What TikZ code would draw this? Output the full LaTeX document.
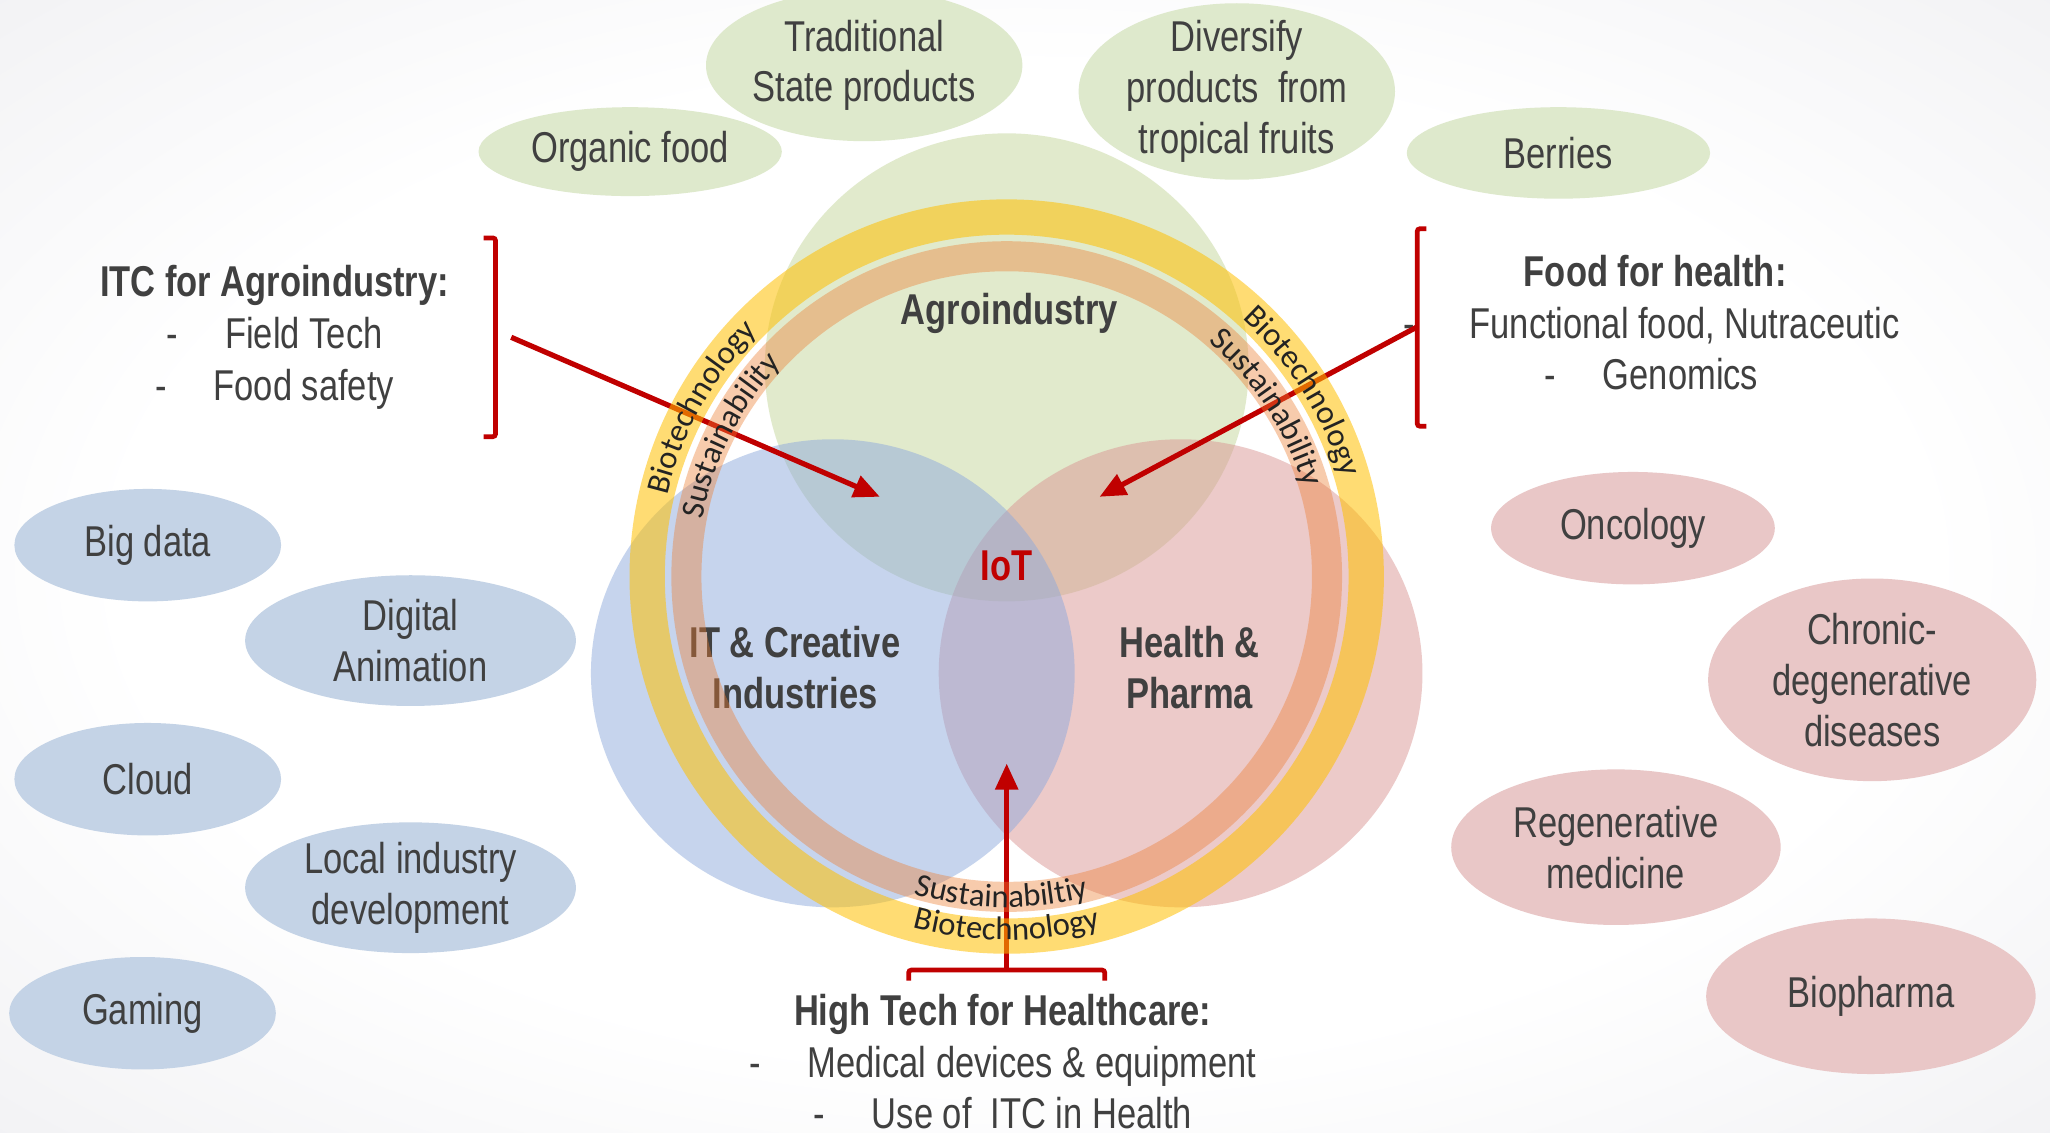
\documentclass[tikz,border=0pt]{standalone}
\usepackage{fontspec}
\setmainfont{Liberation Sans}[FakeStretch=0.8]
\newfontfamily\ringfont{Carlito}
\usetikzlibrary{shapes.geometric, arrows, arrows.meta, decorations.text}
\definecolor{txtgray}{RGB}{64,64,64}
\definecolor{ringink}{RGB}{35,35,35}
\definecolor{itcred}{RGB}{192,0,0}
\definecolor{agrogreen}{RGB}{196,215,155}
\definecolor{itblue}{RGB}{143,170,220}
\definecolor{hppink}{RGB}{218,150,148}
\definecolor{lightgreen}{RGB}{222,233,204}
\definecolor{lightblue}{RGB}{196,211,230}
\definecolor{lightpink}{RGB}{233,199,199}
\definecolor{ringgold}{RGB}{255,192,0}
\definecolor{ringorange}{RGB}{237,125,49}
\definecolor{bglight}{RGB}{238,238,241}
\definecolor{bgmid}{RGB}{218,218,224}
\definecolor{bgedge}{RGB}{196,196,206}
\pgfdeclareradialshading{slidebg}{\pgfpoint{0bp}{0bp}}{color(0bp)=(white); color(22bp)=(white); color(40bp)=(bglight); color(50bp)=(bgmid); color(72bp)=(bgedge)}
\tikzstyle{bubble} = [ellipse, inner sep=-10pt, text=txtgray, font=\fontsize{33}{39}\selectfont, align=center]
\tikzstyle{agrobubble} = [bubble, fill=lightgreen]
\tikzstyle{itbubble} = [bubble, fill=lightblue]
\tikzstyle{pharmabubble} = [bubble, fill=lightpink]
\tikzstyle{smallbubble} = [minimum width=204pt, minimum height=86pt]
\tikzstyle{bigbubble} = [minimum width=253pt, minimum height=100pt]
\tikzstyle{sector} = [ellipse, minimum width=370pt, minimum height=358pt, fill opacity=0.5]
\tikzstyle{sectorlabel} = [text=txtgray, font=\fontsize{33}{39}\selectfont\bfseries, align=center]
\tikzstyle{note} = [text=txtgray, font=\fontsize{33}{39.5}\selectfont, align=center]
\tikzstyle{bracket} = [line width=3.6pt, draw=itcred, rounded corners=2pt]
\tikzstyle{arrow} = [line width=4pt, draw=itcred, ->, >={Triangle[length=20pt,width=17pt]}]
\tikzstyle{ring} = [line width=27pt, draw=ringgold, draw opacity=0.55]
\tikzstyle{innerring} = [line width=23pt, draw=ringorange, draw opacity=0.4]
\tikzstyle{ringtext} = [decorate, decoration={text along path, text align=center, text color=ringink}]

\begin{document}
\begin{tikzpicture}[x=1pt, y=1pt, node distance=179pt]
\useasboundingbox (0,0) rectangle (1568,866);
\clip (0,0) rectangle (1568,866);
\shade[shading=slidebg] (0,0) rectangle (1568,866);

\node (agro) [sector, fill=agrogreen] at (770,585) {};
\node (health) [sector, fill=hppink] at (903,351) {};
\node (itci) [sector, fill=itblue] at (637,351) {};

\node (agrolabel) [sectorlabel] at (772,626) {Agroindustry};
\node (iot) [sectorlabel, text=itcred] at (770,433) {IoT};
\node (itlabel) [sectorlabel] at (608,355) {IT \& Creative\\Industries};
\node (hplabel) [sectorlabel] at (910,355) {Health \&\\Pharma};

\node (organic) [agrobubble, minimum width=232pt, minimum height=68pt] at (482,750) {Organic food};
\node (tradition) [agrobubble, minimum width=242pt, minimum height=116pt] at (661,816) {Traditional\\State products};
\node (tropical) [agrobubble, minimum width=242pt, minimum height=135pt] at (946,796) {Diversify\\products\ \ from\\tropical fruits};
\node (berries) [agrobubble, minimum width=232pt, minimum height=70pt] at (1192,749) {Berries};

\node (bigdata) [itbubble, smallbubble] at (113,449) {Big data};
\node (cloud) [itbubble, smallbubble, below of=bigdata] {Cloud};
\node (gaming) [itbubble, smallbubble, below of=cloud, xshift=-4pt] {Gaming};
\node (digital) [itbubble, bigbubble] at (314,376) {Digital\\Animation};
\node (localind) [itbubble, bigbubble, below of=digital, yshift=-10pt] {Local industry\\development};

\node (oncology) [pharmabubble, minimum width=217pt, minimum height=86pt] at (1249,462) {Oncology};
\node (chronic) [pharmabubble, minimum width=251pt, minimum height=155pt] at (1432,346) {Chronic-\\degenerative\\diseases};
\node (regen) [pharmabubble, minimum width=252pt, minimum height=119pt] at (1236,218) {Regenerative\\medicine};
\node (biopharma) [pharmabubble, minimum width=252pt, minimum height=119pt] at (1431,104) {Biopharma};

\node (itcagro) [note] at (210,608) {\textbf{ITC for Agroindustry:}\\-\hspace{36pt}Field Tech\\-\hspace{36pt}Food safety};
\node (foodhealth) [note] at (1263,619) {\textbf{\hspace{6pt}Food for health:}\\-\hspace{42pt}Functional food, Nutraceutic\\-\hspace{36pt}Genomics\hspace{-4pt}};
\node (hightech) [note] at (767,54) {\textbf{High Tech for Healthcare:}\\-\hspace{36pt}Medical devices \& equipment\\-\hspace{36pt}Use of\ \ ITC in Health};

\draw [bracket] (370,684) -- (379,684) -- (379,532) -- (370,532);
\draw [bracket] (1091,691) -- (1084,691) -- (1084,540) -- (1091,540);
\draw [bracket] (695,116) -- (695,124) -- (845,124) -- (845,116);

\coordinate (agrofrom) at (391,608);
\coordinate (agroto) at (673,486);
\coordinate (healthfrom) at (1084,616);
\coordinate (healthto) at (841,486);
\coordinate (techfrom) at (770,124);
\coordinate (techto) at (770,282);
\draw [arrow] (agrofrom) -- (agroto);
\draw [arrow] (healthfrom) -- (healthto);
\draw [arrow] (techfrom) -- (techto);

\coordinate (hub) at (770,425);
\draw [ring] (hub) circle[radius=275];
\draw [innerring] (hub) circle[radius=245];

\path [ringtext, decoration={text={|\ringfont\fontsize{25}{30}\selectfont|Biotechnology}}] (hub) ++(176:267) arc[start angle=176, end angle=126, radius=267];
\path [ringtext, decoration={text={|\ringfont\fontsize{25}{30}\selectfont|Sustainability}}] (hub) ++(178:237) arc[start angle=178, end angle=128, radius=237];
\path [ringtext, decoration={text={|\ringfont\fontsize{25}{30}\selectfont|Biotechnology}}] (hub) ++(57:267) arc[start angle=57, end angle=7, radius=267];
\path [ringtext, decoration={text={|\ringfont\fontsize{25}{30}\selectfont|Sustainability}}] (hub) ++(58:237) arc[start angle=58, end angle=8, radius=237];
\path [ringtext, decoration={text={|\ringfont\fontsize{25}{30}\selectfont|Sustainabiltiy}}] (hub) ++(249:253) arc[start angle=249, end angle=289, radius=253];
\path [ringtext, decoration={text={|\ringfont\fontsize{25}{30}\selectfont|Biotechnology}}] (hub) ++(250:278) arc[start angle=250, end angle=290, radius=278];

\end{tikzpicture}
\end{document}
